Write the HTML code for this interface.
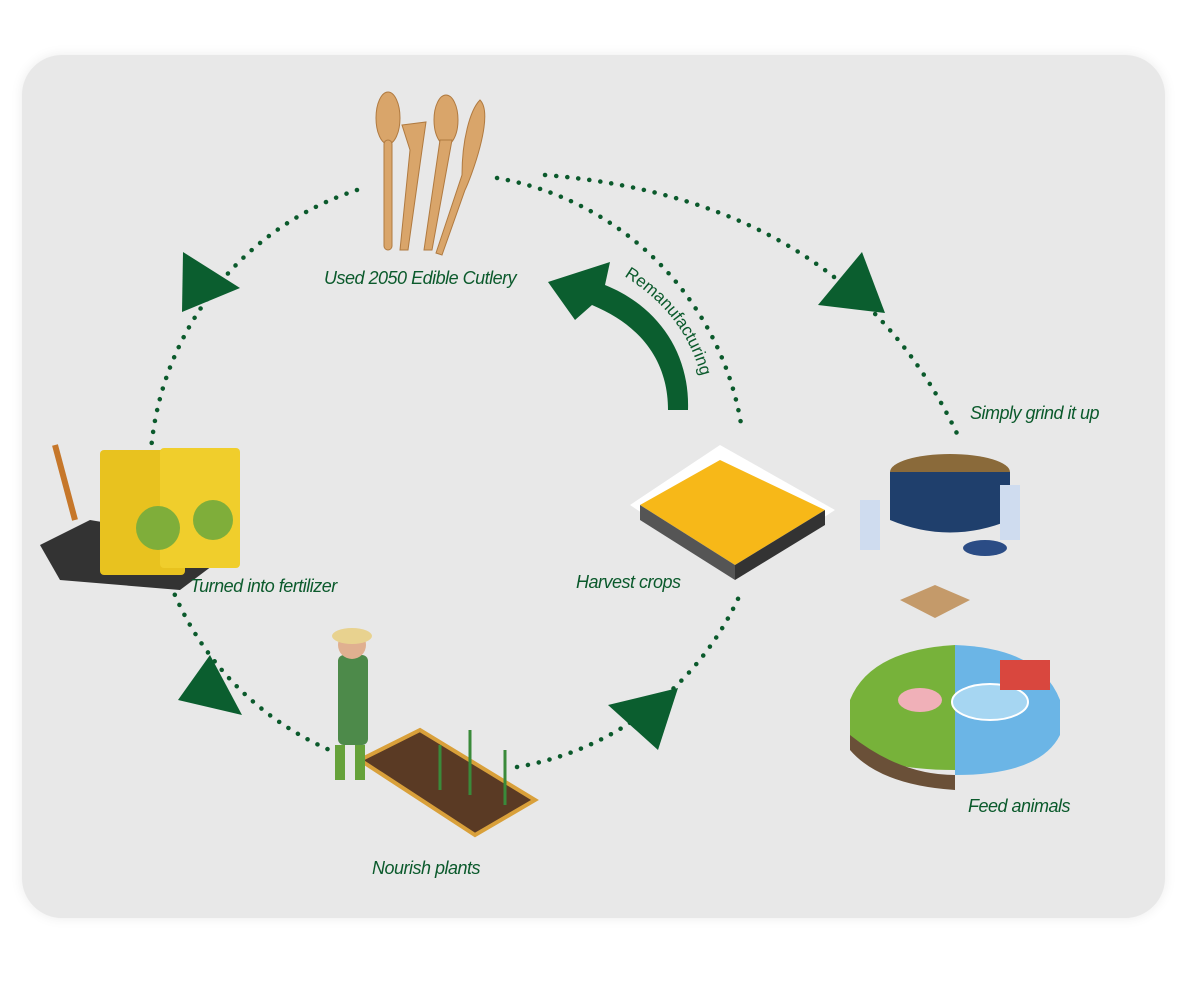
<!DOCTYPE html>
<html><head><meta charset="utf-8"><style>
body{margin:0;background:#fff;width:1200px;height:997px;overflow:hidden;font-family:"Liberation Sans",sans-serif}
.lbl{position:absolute;color:#0b5a2c;font-style:italic;font-size:18px;letter-spacing:-0.5px}
</style></head><body>
<div style="position:absolute;left:22px;top:55px;width:1143px;height:863px;background:#e8e8e8;border-radius:40px;box-shadow:0 0 12px rgba(0,0,0,0.08)"></div>
<svg width="1200" height="997" style="position:absolute;left:0;top:0">
<g fill="none" stroke="#0b5a2c" stroke-width="4.5" stroke-linecap="round" stroke-dasharray="0.1 11">
<path d="M357 190 A300 300 0 0 0 347 757"/>
<path d="M517 767 A300 300 0 0 0 742 590"/>
<path d="M497 178 A300 300 0 0 1 742 430"/>
<path d="M545 175 Q850 200 960 440"/>
</g>
<g fill="#0b5e2f">
<polygon points="183,252 240,288 182,312"/>
<polygon points="862,252 885,313 818,305"/>
<polygon points="178,700 210,655 242,715"/>
<polygon points="608,705 678,688 658,750"/>
<path d="M688 410 C690 350 655 305 605 285 L610 262 L548 282 L575 320 L592 305 C640 325 668 360 668 410 Z"/>
</g>
<path id="rp" d="M624 276 Q695 320 705 398" fill="none"/>
<text fill="#0b5a2c" font-size="17" font-family="Liberation Sans"><textPath href="#rp">Remanufacturing</textPath></text>
<!-- cutlery -->
<g fill="#d9a56a" stroke="#b07a40" stroke-width="1">
<ellipse cx="388" cy="118" rx="12" ry="26"/><rect x="384" y="140" width="8" height="110" rx="4"/>
<path d="M402 125 L426 122 L422 150 L408 250 L400 250 L410 150 Z"/>
<ellipse cx="446" cy="120" rx="12" ry="25"/><path d="M440 140 L452 140 L432 250 L424 250 Z"/>
<path d="M480 100 C495 115 470 180 465 190 L442 255 L436 253 L462 175 C462 140 470 110 480 100Z"/>
</g>
<!-- fertilizer -->
<path d="M40 545 L90 520 L240 545 L180 590 L60 580Z" fill="#333"/>
<line x1="55" y1="445" x2="75" y2="520" stroke="#c6772a" stroke-width="6"/>
<rect x="100" y="450" width="85" height="125" fill="#e8c21f" rx="4"/>
<rect x="160" y="448" width="80" height="120" fill="#f0ce2c" rx="4"/>
<circle cx="158" cy="528" r="22" fill="#7fae3a"/><circle cx="213" cy="520" r="20" fill="#7fae3a"/>
<!-- harvest -->
<polygon points="630,505 720,445 835,510 735,575" fill="#fff"/>
<polygon points="640,505 720,460 825,510 735,565" fill="#f7b818"/>
<polygon points="640,505 735,565 735,580 640,520" fill="#555"/>
<polygon points="735,565 825,510 825,525 735,580" fill="#333"/>
<!-- grinder -->
<ellipse cx="950" cy="472" rx="60" ry="18" fill="#8a6a3a"/>
<path d="M890 472 L890 520 Q950 545 1010 520 L1010 472Z" fill="#1f3f6c"/>
<ellipse cx="985" cy="548" rx="22" ry="8" fill="#2b4c85"/>
<rect x="860" y="500" width="20" height="50" fill="#cfdcef"/><rect x="1000" y="485" width="20" height="55" fill="#cfdcef"/>
<polygon points="900,600 935,585 970,600 935,618" fill="#c49a6a"/>
<!-- animals island -->
<path d="M850 700 Q870 650 955 645 L955 770 Q870 770 850 740Z" fill="#77b23a"/>
<path d="M955 645 Q1040 648 1060 700 L1060 735 Q1040 775 955 775Z" fill="#6bb5e6"/>
<path d="M850 735 Q900 775 955 775 L955 790 Q880 785 850 750Z" fill="#6a5038"/>
<ellipse cx="990" cy="702" rx="38" ry="18" fill="#a6d6f2" stroke="#fff" stroke-width="2"/>
<ellipse cx="920" cy="700" rx="22" ry="12" fill="#f0b0b8"/>
<rect x="1000" y="660" width="50" height="30" fill="#d9473e"/>
<!-- gardener -->
<polygon points="360,760 420,730 535,800 475,835" fill="#5a3a24" stroke="#d9a03a" stroke-width="4"/>
<rect x="338" y="655" width="30" height="90" fill="#4d8a4a" rx="6"/>
<circle cx="352" cy="645" r="14" fill="#e0b090"/><ellipse cx="352" cy="636" rx="20" ry="8" fill="#e8d28f"/>
<rect x="335" y="745" width="10" height="35" fill="#66a23a"/><rect x="355" y="745" width="10" height="35" fill="#66a23a"/>
<g stroke="#3a8a3a" stroke-width="3"><line x1="470" y1="730" x2="470" y2="795"/><line x1="505" y1="750" x2="505" y2="805"/><line x1="440" y1="745" x2="440" y2="790"/></g>
</svg>
<div class="lbl" style="left:324px;top:268px">Used 2050 Edible Cutlery</div>
<div class="lbl" style="left:970px;top:403px">Simply grind it up</div>
<div class="lbl" style="left:190px;top:576px">Turned into fertilizer</div>
<div class="lbl" style="left:576px;top:572px">Harvest crops</div>
<div class="lbl" style="left:968px;top:796px">Feed animals</div>
<div class="lbl" style="left:372px;top:858px">Nourish plants</div>
</body></html>
